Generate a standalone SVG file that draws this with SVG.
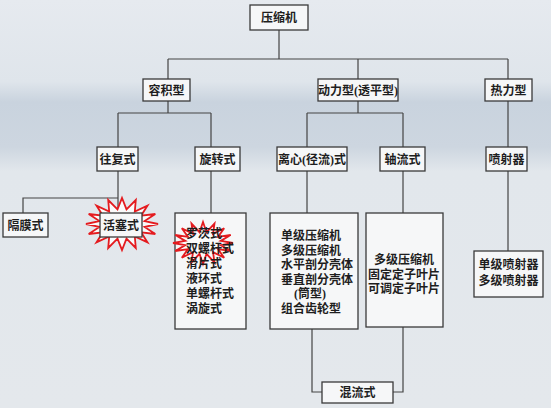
<svg xmlns="http://www.w3.org/2000/svg" width="551" height="408" viewBox="0 0 551 408">
<style>
.bx{fill:#f6f7f8;stroke:#3a3a3a;stroke-width:1.3}
.ln{fill:none;stroke:#444;stroke-width:1.2}
.t{font-family:"Liberation Serif","Noto Sans CJK SC",serif;font-weight:700;font-size:12px;fill:#1e1e1e}
.c{text-anchor:middle}
.star{fill:#fafafa;stroke:#e41b1f;stroke-width:1.8;stroke-linejoin:miter}
</style>
<defs>
<linearGradient id="bg" x1="0" y1="0" x2="0" y2="1">
<stop offset="0" stop-color="#e6eaef"/>
<stop offset="0.2" stop-color="#dfe5eb"/>
<stop offset="0.25" stop-color="#c9d3de"/>
<stop offset="0.36" stop-color="#cdd6e0"/>
<stop offset="0.42" stop-color="#e2e7ec"/>
<stop offset="1" stop-color="#e4e8ec"/>
</linearGradient>
</defs>
<rect x="0" y="0" width="551" height="408" fill="url(#bg)"/>

<g id="connectors">
<path class="ln" d="M279 30V59M168 59H508M168 59V79M358 59V79M508 59V79"/>
<path class="ln" d="M168 101V113M118 113H211M118 113V147M211 113V147"/>
<path class="ln" d="M358 101V113M307 113H403M307 113V147M403 113V147"/>
<path class="ln" d="M508 101V147M508 171V251"/>
<path class="ln" d="M118 171V213M118 198H23V213"/>
<path class="ln" d="M211 171V213M307 171V213M403 171V213"/>
<path class="ln" d="M312 329V392H322M393 392H403V327"/>
</g>

<g id="n-root"><rect class="bx" x="250" y="5" width="58" height="25"/><text class="t c" x="279" y="22">压缩机</text></g>
<g id="n-rongji"><rect class="bx" x="143" y="79" width="47" height="22"/><text class="t c" x="166.5" y="94.5">容积型</text></g>
<g id="n-dongli"><rect class="bx" x="318" y="79" width="80" height="22"/><text class="t c" x="358" y="94.5">动力型(透平型)</text></g>
<g id="n-reli"><rect class="bx" x="485" y="79" width="47" height="22"/><text class="t c" x="508.5" y="94.5">热力型</text></g>

<g id="n-wangfu"><rect class="bx" x="97" y="147" width="41" height="24"/><text class="t c" x="117.5" y="163.5">往复式</text></g>
<g id="n-xuanzhuan"><rect class="bx" x="195" y="147" width="45" height="24"/><text class="t c" x="217.5" y="163.5">旋转式</text></g>
<g id="n-lixin"><rect class="bx" x="277" y="147" width="70" height="24"/><text class="t c" x="312" y="163.5">离心(径流)式</text></g>
<g id="n-zhouliu"><rect class="bx" x="380" y="147" width="45" height="24"/><text class="t c" x="402.5" y="163.5">轴流式</text></g>
<g id="n-penshe"><rect class="bx" x="486" y="147" width="41" height="24"/><text class="t c" x="506.5" y="163.5">喷射器</text></g>

<g id="n-gemo"><rect class="bx" x="3" y="213" width="45" height="24"/><text class="t c" x="25.5" y="229.5">隔膜式</text></g>
<g id="n-huosai">
<polygon class="star" points="158,224 144.6,226.9 155.3,234 141.1,232.3 147.5,242.4 134.8,236.5 135.8,248 126.5,238.7 122,250 117.5,238.7 108.2,248 109.2,236.5 96.5,242.4 102.9,232.3 88.7,234 99.4,226.9 86,224 99.4,221.1 88.7,214 102.9,215.7 96.5,205.6 109.2,211.5 108.2,200 117.5,209.3 122,198 126.5,209.3 135.8,200 134.8,211.5 147.5,205.6 141.1,215.7 155.3,214 144.6,221.1"/>
<rect class="bx" x="100" y="213" width="42" height="24"/><text class="t c" x="121" y="229.5">活塞式</text></g>

<g id="n-xuanzhuan-list">
<rect class="bx" x="175" y="213" width="71" height="116"/>
<polygon class="star" points="233,243 220.7,245.1 230.7,251 218,249.1 224.2,257.8 213,252.1 214.5,262.4 206.5,253.8 203,264 199.5,253.8 191.5,262.4 193,252.1 181.8,257.8 188,249.1 175.3,251 185.3,245.1 173,243 185.3,240.9 175.3,235 188,236.9 181.8,228.2 193,233.9 191.5,223.6 199.5,232.2 203,222 206.5,232.2 214.5,223.6 213,233.9 224.2,228.2 218,236.9 230.7,235 220.7,240.9"/>
<text class="t" x="186" y="238">罗茨式</text>
<text class="t" x="186" y="253">双螺杆式</text>
<text class="t" x="186" y="268">滑片式</text>
<text class="t" x="186" y="283">液环式</text>
<text class="t" x="186" y="298">单螺杆式</text>
<text class="t" x="186" y="313">涡旋式</text>
</g>

<g id="n-lixin-list">
<rect class="bx" x="270" y="213" width="88" height="116"/>
<text class="t" x="281" y="240">单级压缩机</text>
<text class="t" x="281" y="254.5">多级压缩机</text>
<text class="t" x="281" y="269">水平剖分壳体</text>
<text class="t" x="281" y="283.5">垂直剖分壳体</text>
<text class="t c" x="310" y="298">(筒型)</text>
<text class="t" x="281" y="312.5">组合齿轮型</text>
</g>

<g id="n-zhouliu-list">
<rect class="bx" x="366" y="213" width="77" height="114"/>
<text class="t c" x="404" y="264">多级压缩机</text>
<text class="t c" x="404" y="278.5">固定定子叶片</text>
<text class="t c" x="404" y="293">可调定子叶片</text>
</g>

<g id="n-penshe-list">
<rect class="bx" x="474" y="251" width="69" height="46"/>
<text class="t c" x="508.5" y="269">单级喷射器</text>
<text class="t c" x="508.5" y="285">多级喷射器</text>
</g>

<g id="n-hunliu"><rect class="bx" x="322" y="382" width="71" height="21"/><text class="t c" x="357.5" y="396.5">混流式</text></g>
</svg>
